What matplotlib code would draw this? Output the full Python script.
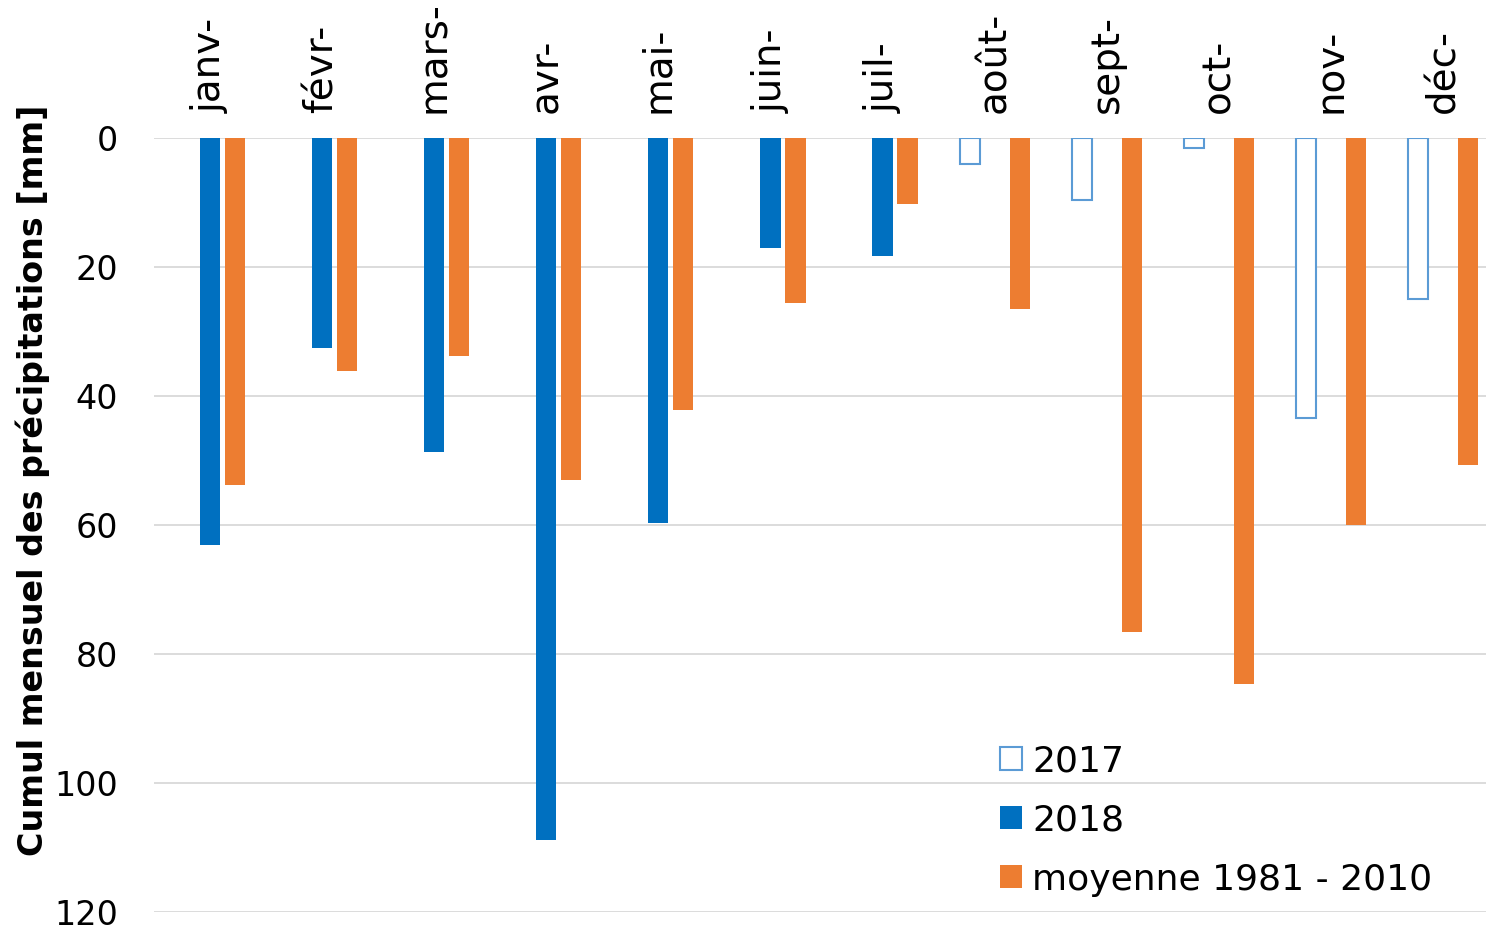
import numpy as np
import matplotlib.pyplot as plt

months = ["janv-", "févr-", "mars-", "avr-", "mai-", "juin-",
          "juil-", "août-", "sept-", "oct-", "nov-", "déc-"]
rain_2017 = [np.nan, np.nan, np.nan, np.nan, np.nan, np.nan,
             np.nan, 4.0, 9.6, 1.6, 43.4, 25.0]
rain_2018 = [63.1, 32.6, 48.7, 108.8, 59.7, 17.1,
             18.3, np.nan, np.nan, np.nan, np.nan, np.nan]
rain_mean = [53.8, 36.1, 33.8, 53.0, 42.2, 25.6,
             10.2, 26.5, 76.6, 84.7, 60.0, 50.7]


def main():
    plt.rcParams["font.family"] = ["DejaVu Sans"]

    W, H = 1486, 930
    fig = plt.figure(figsize=(W / 100, H / 100), dpi=100)
    # axes run slightly past the right edge, like the original export
    ax = fig.add_axes([154 / W, 18 / H, 1345 / W, 774 / H])

    x = np.arange(len(months))
    w = 0.18
    off = 0.223

    ax.bar(x - off, rain_2017, w, facecolor="white", edgecolor="#5b9bd5",
           linewidth=1.5, label="2017", zorder=3)
    ax.bar(x, rain_2018, w, color="#0070c0", label="2018", zorder=3)
    ax.bar(x + off, rain_mean, w, color="#ed7d31",
           label="moyenne 1981 - 2010", zorder=3)

    ax.set_xlim(-0.5, len(months) - 0.5)
    ax.set_ylim(120, 0)
    ax.set_yticks(np.arange(0, 121, 20))
    ax.yaxis.grid(True, color="#d9d9d9", linewidth=1.3, zorder=0)
    ax.set_axisbelow(True)

    ax.xaxis.tick_top()
    ax.set_xticks(x)
    ax.set_xticklabels(months, rotation=90, fontsize=28)
    ax.tick_params(axis="both", length=0)
    ax.tick_params(axis="x", pad=18)
    ax.tick_params(axis="y", labelsize=24, pad=26)

    for s in ax.spines.values():
        s.set_visible(False)

    fig.text(33 / W, 1 - 480 / H, "Cumul mensuel des précipitations [mm]",
             rotation=90, ha="center", va="center", fontsize=24,
             fontweight="bold")

    ax.legend(loc="upper left", bbox_to_anchor=(1000 / W, 1 - 744 / H),
              bbox_transform=fig.transFigure, frameon=False, fontsize=26,
              handlelength=0.6, handleheight=0.6, handletextpad=0.3,
              labelspacing=0.7, borderaxespad=0, borderpad=0)

    fig.savefig("out.png", dpi=100)
    plt.close(fig)


if __name__ == "__main__":
    main()
